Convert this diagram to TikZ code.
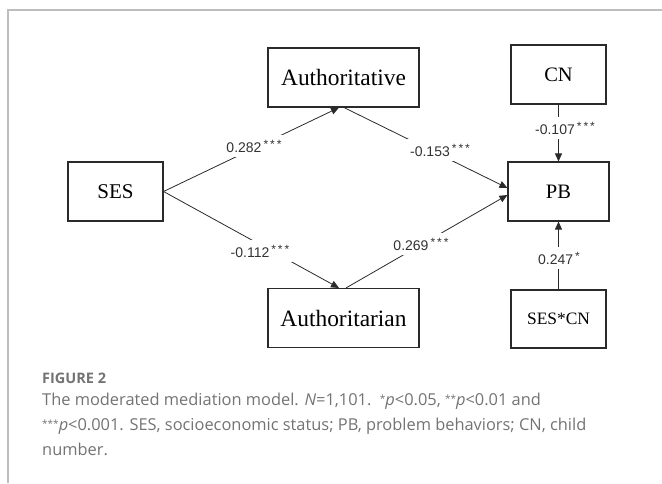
\documentclass[tikz,border=0pt]{standalone}
\usepackage{fontspec}
\setmainfont{Liberation Serif}
\newfontfamily\labfont{Liberation Sans}
\newfontfamily\capfont{Open Sans}
\usetikzlibrary{arrows.meta}
\definecolor{framegray}{HTML}{BDBDBD}
\definecolor{linegray}{HTML}{2A2A2A}
\definecolor{labgray}{HTML}{333333}
\definecolor{capgray}{HTML}{737373}
\newcommand{\stars}[1]{\raisebox{4pt}{\fontsize{12}{13}\selectfont #1}}
\newcommand{\capstars}[1]{\raisebox{3pt}{\fontsize{10}{10}\selectfont #1}}
\tikzset{
  box/.style={draw=linegray, line width=1.1pt, minimum width=#1, minimum height=59pt, inner sep=0pt, text=black},
  box/.default=151pt,
  conn/.style={draw=linegray, line width=0.8pt, -{Triangle[length=8pt,width=7pt]}},
  lab/.style={fill=white, text=labgray, font=\labfont\fontsize{14}{15}\selectfont, inner xsep=3pt, inner ysep=5pt},
  captxt/.style={anchor=base west, text=capgray, inner sep=0pt, font=\capfont\fontsize{16.4}{19}\selectfont}
}
\begin{document}
\begin{tikzpicture}[x=1pt,y=-1pt]
\useasboundingbox (0,0) rectangle (662,483);
% frame
\draw[framegray, line width=2pt] (7.5,483) -- (7.5,10) -- (662,10);
% boxes
\node[box=95pt, font=\fontsize{21}{24}\selectfont] (ses) at (115.5,191.5) {SES};
\node[box=151pt, font=\fontsize{23.4}{26}\selectfont] (aut) at (343.5,77.5) {Authoritative};
\node[box=151pt, font=\fontsize{23.4}{26}\selectfont] (atn) at (343.5,318) {Authoritarian};
\node[box=101pt, font=\fontsize{20.5}{24}\selectfont] (pb) at (558.5,191.5) {PB};
\node[box=95pt, font=\fontsize{20.5}{24}\selectfont] (cn) at (558.5,74.5) {CN};
\node[box=95pt, minimum height=58pt, font=\fontsize{17.4}{20}\selectfont] (sc) at (558.5,319) {SES*CN};
% connectors
\draw[conn] (ses.east) -- ([xshift=-4.5pt]aut.south);
\draw[conn] ([xshift=0.5pt]aut.south) -- ([yshift=3.5pt]pb.west);
\draw[conn] (ses.east) -- ([xshift=-4.5pt]atn.north);
\draw[conn] ([xshift=2.5pt]atn.north) -- ([yshift=-3.5pt]pb.west);
\draw[conn] (cn.south) -- (pb.north);
\draw[conn] (sc.north) -- (pb.south);
% labels
\node[lab] at (254,146) {0.282\stars{\,*\,*\,*}};
\node[lab] at (440,150) {-0.153\stars{\,*\,*\,*}};
\node[lab] at (260,251) {-0.112\stars{\,*\,*\,*}};
\node[lab] at (421,244) {0.269\stars{\,*\,*\,*}};
\node[lab] at (565,128) {-0.107\stars{\,*\,*\,*}};
\node[lab] at (559,258) {0.247\stars{\,*}};
% caption
\node[captxt, font=\capfont\bfseries\fontsize{14.5}{16}\selectfont] (fig) at (42,383) {FIGURE 2};
\node[captxt] (c1) at (42,405) {The moderated mediation model. \textit{N}=1,101.\ \ \capstars{*}\textit{p}<0.05, \capstars{**}\textit{p}<0.01 and};
\node[captxt] (c2) at (42,430) {\capstars{***}\textit{p}<0.001. SES, socioeconomic status; PB, problem behaviors; CN, child};
\node[captxt] (c3) at (42,455) {number.};
\end{tikzpicture}
\end{document}
